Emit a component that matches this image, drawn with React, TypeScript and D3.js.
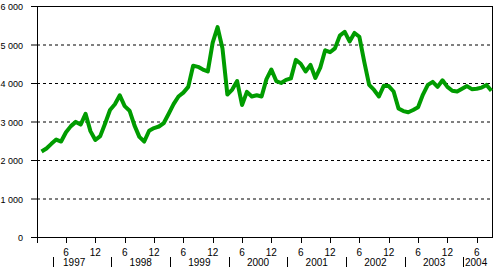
import React from 'react';
import * as d3 from 'd3';

// Monthly values, starting Jan 1997 (index 0)
const values: number[] = [
  2220, 2300, 2420, 2530, 2480, 2720, 2880, 2990, 2920, 3200, 2750, 2520,
  2620, 2950, 3300, 3450, 3680, 3400, 3280, 2900, 2600, 2480, 2760, 2830,
  2870, 2960, 3200, 3450, 3650, 3750, 3900, 4450, 4420, 4350, 4300, 5050,
  5450, 4900, 3700, 3830, 4050, 3430, 3770, 3650, 3680, 3650, 4100, 4350,
  4050, 4000, 4080, 4120, 4600, 4500, 4300, 4470, 4130, 4400, 4850, 4800,
  4900, 5230, 5330, 5080, 5300, 5200, 4550, 3950, 3820, 3650, 3930, 3920,
  3780, 3340, 3270, 3240, 3300, 3370, 3700, 3950, 4030, 3900, 4070, 3900,
  3800, 3780, 3850, 3920, 3840, 3850, 3880, 3950, 3800,
];

const yTicks: number[] = [0, 1000, 2000, 3000, 4000, 5000, 6000];
const monthTickIndex: number[] = [5, 11, 17, 23, 29, 35, 41, 47, 53, 59, 65, 71, 77, 83, 89];
const monthTickLabels: string[] = ['6', '12', '6', '12', '6', '12', '6', '12', '6', '12', '6', '12', '6', '12', '6'];
const years: string[] = ['1997', '1998', '1999', '2000', '2001', '2002', '2003', '2004'];

const W = 495;
const H = 268;
const L = 37;
const R = 492;
const T = 6;
const B = 237;
const font = "'Liberation Sans', Arial, sans-serif";

export default function App() {
  const x = d3.scaleLinear().domain([0, values.length - 1]).range([41.55, 491.4]);
  const y = d3.scaleLinear().domain([0, 6000]).range([B, T]);
  const line = d3
    .line<number>()
    .x((_, i) => x(i))
    .y((d) => y(d));

  const fmt = (v: number) => d3.format(',')(v).replace(/,/g, ' ');
  const sepIdx = years.map((_, k) => 2.28 + 12 * k);
  const sepX = sepIdx.map((i) => x(i));

  return (
    <svg
      width={W}
      height={H}
      style={{ position: 'absolute', left: 0, top: 0, background: '#fff' }}
      fontFamily={font}
    >
      <rect x={0} y={0} width={W} height={H} fill="#fff" />
      {/* gridlines */}
      {yTicks.filter((v) => v > 0 && v < 6000).map((v) => (
        <line key={v} x1={L} x2={R} y1={y(v) + 0.5} y2={y(v) + 0.5} stroke="#000" strokeDasharray="3,3" />
      ))}
      {/* frame */}
      <line x1={L} x2={R} y1={T + 0.5} y2={T + 0.5} stroke="#000" />
      <line x1={R + 0.5} x2={R + 0.5} y1={T} y2={B} stroke="#000" />
      <line x1={L + 0.5} x2={L + 0.5} y1={T} y2={B + 6} stroke="#000" />
      <line x1={L - 6} x2={R + 1} y1={B + 0.5} y2={B + 0.5} stroke="#000" />
      {/* y ticks */}
      {yTicks.map((v) => (
        <g key={v}>
          <line x1={L - 6} x2={L} y1={y(v) + 0.5} y2={y(v) + 0.5} stroke="#000" />
          <text x={23} y={y(v) + 4} textAnchor="end" fontSize={9} fill="#000">
            {fmt(v)}
          </text>
        </g>
      ))}
      {/* x month ticks */}
      {monthTickIndex.map((i, k) => (
        <g key={i}>
          <line x1={Math.round(x(i)) + 0.5} x2={Math.round(x(i)) + 0.5} y1={B} y2={B + 6} stroke="#000" />
          <text x={x(i)} y={256} textAnchor="middle" fontSize={10} fill="#000">
            {monthTickLabels[k]}
          </text>
        </g>
      ))}
      {/* year separators and labels */}
      {years.map((yr, k) => {
        const sx = sepX[k];
        const last = k === years.length - 1;
        let cx: number;
        if (k === 0) cx = (L + sepX[1]) / 2;
        else if (!last) cx = (sx + sepX[k + 1]) / 2;
        else cx = Math.round(sx) + 2;
        return (
          <g key={yr}>
            <line x1={Math.round(sx) + 0.5} x2={Math.round(sx) + 0.5} y1={257} y2={267} stroke="#000" />
            <text x={cx} y={266} textAnchor={last ? 'start' : 'middle'} fontSize={10} fill="#000">
              {yr}
            </text>
          </g>
        );
      })}
      {/* data line */}
      <path d={line(values) || ''} fill="none" stroke="#009c00" strokeWidth={4} strokeLinejoin="round" strokeLinecap="butt" />
    </svg>
  );
}
